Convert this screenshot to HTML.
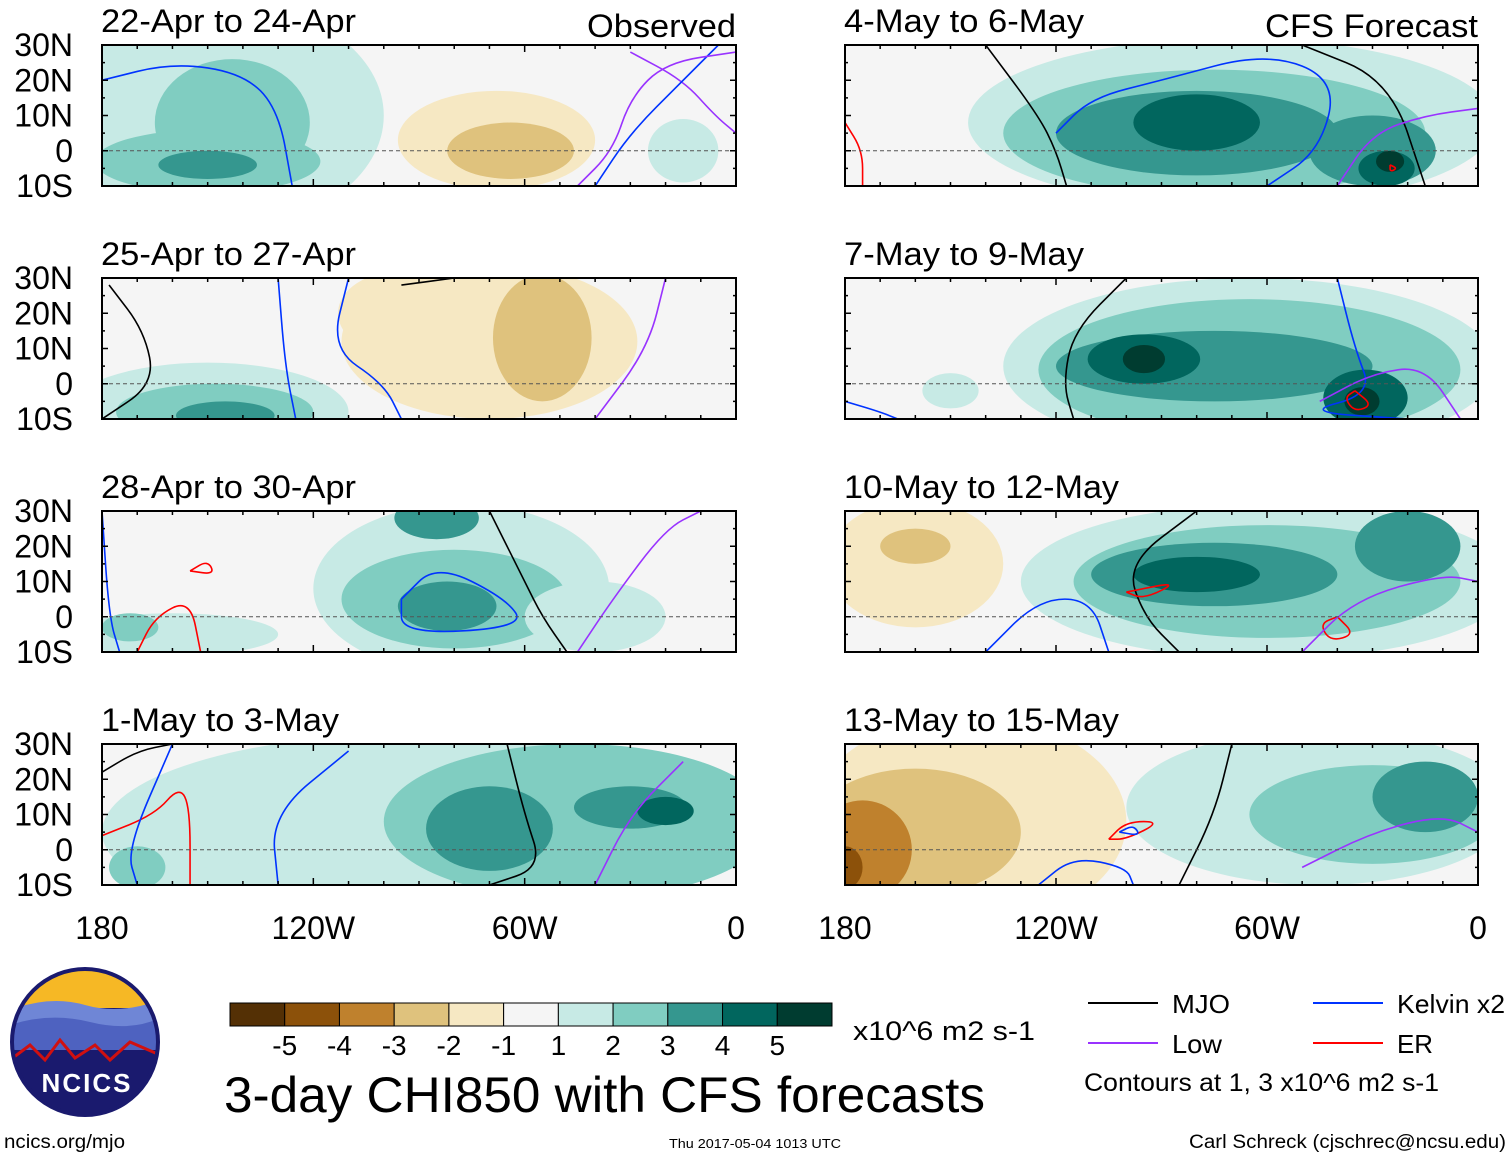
<!DOCTYPE html>
<html><head><meta charset="utf-8">
<style>
body{margin:0;background:#fff;}
svg{display:block;font-family:"Liberation Sans",Arial,sans-serif;}
</style></head>
<body>
<svg id="chart" width="1510" height="1158" viewBox="0 0 1510 1158" xmlns="http://www.w3.org/2000/svg">
<defs id="defs"></defs>
</svg>
<script>
// ---- data ----
const levelColors = ["#543005","#8c510a","#bf812d","#dfc27d","#f6e8c3","#f5f5f5","#c7eae5","#80cdc1","#35978f","#01665e","#003c30"];
const levelLabels = ["-5","-4","-3","-2","-1","1","2","3","4","5"];
const panelTitles = ["22-Apr to 24-Apr","25-Apr to 27-Apr","28-Apr to 30-Apr","1-May to 3-May","4-May to 6-May","7-May to 9-May","10-May to 12-May","13-May to 15-May"];
const latTicks = [30,20,10,0,-10];
const latLabels = ["30N","20N","10N","0","10S"];
const lonTicks = [180,120,60,0];
const lonLabels = ["180","120W","60W","0"];
// blobs: [lonW, lat, radiusLon, radiusLat, colorIndex]
const blobs = [
 [[145,10,45,32,6],[143,8,22,18,7],[150,-3,32,9,7],[150,-4,14,4,8],[68,3,28,14,4],[64,0,18,8,3],[15,0,10,9,6]],
 [[150,-8,40,14,6],[148,-8,28,8,7],[145,-9,14,4,8],[70,12,42,22,4],[55,13,14,18,3],[95,20,18,12,4]],
 [[78,8,42,24,6],[80,5,32,14,7],[82,3,14,7,8],[85,28,12,6,8],[160,-5,30,6,6],[172,-3,8,4,7],[40,0,20,10,6]],
 [[90,5,90,28,6],[45,8,55,22,7],[70,6,18,12,8],[30,12,16,6,8],[20,11,8,4,9],[150,5,20,10,6],[170,-5,8,6,7]],
 [[70,8,75,24,6],[75,5,60,18,7],[80,5,40,12,8],[30,0,18,10,8],[80,8,18,8,9],[26,-5,8,5,9],[25,-3,4,3,10]],
 [[65,5,70,25,6],[65,4,60,20,7],[75,5,45,10,8],[95,7,16,7,9],[32,-4,12,8,9],[95,7,6,4,10],[33,-5,5,4,10],[150,-2,8,5,6]],
 [[160,15,25,18,4],[160,20,10,5,3],[60,10,70,22,6],[60,10,55,16,7],[75,12,35,9,8],[80,12,18,5,9],[20,20,15,10,8]],
 [[145,8,45,30,4],[160,5,30,18,3],[175,0,14,14,2],[180,-5,5,6,1],[45,12,55,22,6],[30,10,35,14,7],[15,15,15,10,8]]
];
// contour lines: [color, points[[lonW,lat],...]]
const lines = [
 [["#0033ff",[[180,20],[160,25],[140,22],[130,12],[126,-10]]],["#9933ff",[[30,28],[15,20],[6,10],[0,5]]],["#0033ff",[[40,-10],[30,5],[15,20],[5,30]]],["#9933ff",[[45,-10],[35,0],[30,15],[20,25],[0,28]]]],
 [["#000000",[[180,-10],[165,0],[168,15],[178,28]]],["#0033ff",[[125,-10],[128,5],[130,30]]],["#0033ff",[[95,-10],[100,0],[115,10],[110,30]]],["#000000",[[95,28],[80,30]]],["#9933ff",[[40,-10],[25,10],[20,30]]]],
 [["#0033ff",[[180,30],[178,0],[175,-10]]],["#ff0000",[[170,-10],[165,0],[155,5],[152,-10]]],["#ff0000",[[155,13],[150,16],[148,12],[155,13]]],["#0033ff",[[95,5],[85,15],[65,5],[60,-3],[95,-5],[95,5]]],["#000000",[[70,30],[60,10],[55,0],[48,-10]]],["#9933ff",[[45,-10],[35,5],[20,25],[10,30]]]],
 [["#000000",[[180,22],[170,28],[160,30]]],["#ff0000",[[180,4],[165,10],[158,18],[155,12],[155,-10]]],["#0033ff",[[170,-10],[173,0],[160,30]]],["#0033ff",[[130,-10],[132,10],[110,28]]],["#000000",[[65,30],[60,10],[55,-5],[70,-10]]],["#9933ff",[[40,-10],[30,10],[15,25]]]],
 [["#000000",[[140,30],[125,10],[120,0],[117,-10]]],["#0033ff",[[120,5],[110,15],[90,20],[60,28],[40,20],[45,0],[60,-10]]],["#ff0000",[[180,8],[175,0],[175,-10]]],["#000000",[[50,30],[25,20],[15,-10]]],["#9933ff",[[40,-10],[30,5],[15,10],[0,12]]],["#ff0000",[[25,-4],[23,-5],[25,-6],[25,-4]]]],
 [["#000000",[[100,30],[115,15],[118,0],[115,-10]]],["#0033ff",[[180,-5],[170,-8],[165,-10]]],["#0033ff",[[40,30],[35,10],[30,-3],[50,-8],[20,-10]]],["#ff0000",[[35,-2],[30,-6],[35,-8],[38,-4],[35,-2]]],["#9933ff",[[45,-5],[30,3],[15,5],[5,-10]]]],
 [["#000000",[[80,30],[100,15],[95,0],[85,-10]]],["#0033ff",[[140,-10],[125,5],[110,5],[105,-10]]],["#ff0000",[[100,7],[85,10],[95,5],[100,7]]],["#ff0000",[[40,0],[35,-5],[42,-7],[45,-2],[40,0]]],["#9933ff",[[50,-10],[35,5],[10,12],[0,10]]]],
 [["#0033ff",[[125,-10],[115,-2],[100,-5],[98,-10]]],["#ff0000",[[105,3],[100,8],[90,8],[100,3],[105,3]]],["#0033ff",[[102,5],[98,7],[96,4],[102,5]]],["#000000",[[85,-10],[75,10],[70,30]]],["#9933ff",[[50,-5],[30,5],[10,10],[0,5]]]]
];
const titleWidths = [255,255,255,238,240,240,275,275];
// ---- drawing ----
const NS="http://www.w3.org/2000/svg";
const svg=document.getElementById('chart');
const defs=document.getElementById('defs');
function el(t,a,p){const e=document.createElementNS(NS,t);for(const k in a)e.setAttribute(k,a[k]);(p||svg).appendChild(e);return e;}
const colX=[102,845], colW=[634,633], rowY=[45,278,511,744], PH=141;
function xs(c,lon){return colX[c]+(180-lon)/180*colW[c];}
function ys(r,lat){return rowY[r]+(30-lat)/40*PH;}
for(let p=0;p<8;p++){
  const c=p<4?0:1, r=p%4;
  const cp=el('clipPath',{id:'cp'+p},defs);
  el('rect',{x:colX[c],y:rowY[r],width:colW[c],height:PH},cp);
  const g=el('g',{'clip-path':'url(#cp'+p+')'});
  
  
  el('rect',{x:colX[c],y:rowY[r],width:colW[c],height:PH,fill:levelColors[5]},g);
  blobs[p].forEach(b=>{
    const e=el('ellipse',{cx:xs(c,b[0]),cy:ys(r,b[1]),rx:b[2]/180*colW[c],ry:b[3]/40*PH,fill:levelColors[b[4]]},g);
    
    
  });
  lines[p].forEach(l=>{
    const pts=l[1].map(q=>[xs(c,q[0]),ys(r,q[1])]);
    let d='M'+pts[0].join(',');
    for(let i=1;i<pts.length;i++){const m=[(pts[i-1][0]+pts[i][0])/2,(pts[i-1][1]+pts[i][1])/2];d+=' Q'+pts[i-1].join(',')+' '+m.join(',');}
    d+=' L'+pts[pts.length-1].join(',');
    const e=el('path',{d:d,fill:'none',stroke:l[0],'stroke-width':1.6},g);
    
    
  });
  const eq=el('line',{x1:colX[c],x2:colX[c]+colW[c],y1:ys(r,0),y2:ys(r,0),stroke:'#555','stroke-width':1,'stroke-dasharray':'4,3'});
  
  
  const fr=el('rect',{x:colX[c],y:rowY[r],width:colW[c],height:PH,fill:'none',stroke:'#000','stroke-width':2});
  
  
  for(let lo=180;lo>=0;lo-=10){const x=xs(c,lo),len=lo%60==0?7:4;
    el('line',{x1:x,x2:x,y1:rowY[r],y2:rowY[r]+len,stroke:'#000','stroke-width':1.5});
    el('line',{x1:x,x2:x,y1:rowY[r]+PH,y2:rowY[r]+PH-len,stroke:'#000','stroke-width':1.5});}
  for(let la=-10;la<=30;la+=5){const y=ys(r,la),len=la%10==0?6:3;
    el('line',{x1:colX[c],x2:colX[c]+len,y1:y,y2:y,stroke:'#000','stroke-width':1.5});
    el('line',{x1:colX[c]+colW[c],x2:colX[c]+colW[c]-len,y1:y,y2:y,stroke:'#000','stroke-width':1.5});}
  const t=el('text',{x:colX[c]-1,y:rowY[r]-13,'font-size':32,textLength:titleWidths[p],lengthAdjust:'spacingAndGlyphs'});t.textContent=panelTitles[p];
  
  
  if(c==0){latTicks.forEach((la,i)=>{const tt=el('text',{x:73,y:ys(r,la)+11,'font-size':32,'text-anchor':'end'});tt.textContent=latLabels[i];
    
    });}
}
[["Observed",736,149],["CFS Forecast",1478,213]].forEach(a=>{const t=el('text',{x:a[1],y:37,'font-size':32,'text-anchor':'end',textLength:a[2],lengthAdjust:'spacingAndGlyphs'});t.textContent=a[0];
  
  });
for(let c=0;c<2;c++)lonTicks.forEach((lo,i)=>{const t=el('text',{x:xs(c,lo),y:939,'font-size':32,'text-anchor':'middle'});t.textContent=lonLabels[i];
  
  });
// colorbar
const cbX=230,cbW=602,cbY=1003,cbH=23,bw=cbW/11;
levelColors.forEach((col,i)=>{const r=el('rect',{x:cbX+i*bw,y:cbY,width:bw,height:cbH,fill:col,stroke:'#000','stroke-width':1});
  
  });
levelLabels.forEach((l,i)=>{const t=el('text',{x:cbX+(i+1)*bw,y:1055,'font-size':28,'text-anchor':'middle'});t.textContent=l;
  
  });
function txt(s,x,y,fs,name,anchor,len){const a={x:x,y:y,'font-size':fs,'text-anchor':anchor||'start'};if(len){a.textLength=len;a.lengthAdjust='spacingAndGlyphs';}
  const t=el('text',a);t.textContent=s;
  
  return t;}
txt("x10^6 m2 s-1",853,1040,27,'colorbar-units','start',182);
txt("3-day CHI850 with CFS forecasts",224,1112,50,'main-title','start',761);
txt("ncics.org/mjo",4,1148,19,'website-link','start',121);
txt("Thu 2017-05-04 1013 UTC",669,1148,13,'timestamp','start',172);
txt("Carl Schreck (cjschrec@ncsu.edu)",1506,1148,19,'author-credit','end',317);
// legend
[["MJO","#000",1088,1003,58],["Kelvin x2","#0033ff",1313,1003,108],["Low","#9933ff",1088,1043,50],["ER","#ff0000",1313,1043,36]].forEach(l=>{
  const g=el('g',{});
  
  
  el('line',{x1:l[2],x2:l[2]+70,y1:l[3],y2:l[3],stroke:l[1],'stroke-width':2},g);
  const t=el('text',{x:l[2]+84,y:l[3]+10,'font-size':26,textLength:l[4],lengthAdjust:'spacingAndGlyphs'},g);t.textContent=l[0];
});
txt("Contours at 1, 3 x10^6 m2 s-1",1084,1091,25,'contour-note','start',355);
// logo
const lg=el('g',{});


const lcp=el('clipPath',{id:'logoclip'},defs);
el('circle',{cx:85,cy:1042,r:73},lcp);
const lgc=el('g',{'clip-path':'url(#logoclip)'},lg);
el('rect',{x:10,y:968,width:150,height:150,fill:'#1a1a6e'},lgc);
el('rect',{x:10,y:968,width:150,height:40,fill:'#f6b825'},lgc);
el('path',{d:'M10,1010 Q50,995 85,1005 T160,1000 L160,1030 L10,1030Z',fill:'#6f86d6'},lgc);
el('path',{d:'M10,1025 Q50,1012 90,1022 T160,1018 L160,1050 L10,1050Z',fill:'#4e62c0'},lgc);
el('path',{d:'M10,1060 L30,1045 L45,1060 L60,1040 L75,1058 L95,1045 L110,1060 L130,1042 L160,1055',fill:'none',stroke:'#d01010','stroke-width':3},lgc);
el('circle',{cx:85,cy:1042,r:73,fill:'none',stroke:'#1a1a6e','stroke-width':4},lg);
const lt=el('text',{x:87,y:1092,'font-size':26,'font-weight':'bold',fill:'#fff','text-anchor':'middle','letter-spacing':2},lg);lt.textContent="NCICS";
</script>
</body></html>
